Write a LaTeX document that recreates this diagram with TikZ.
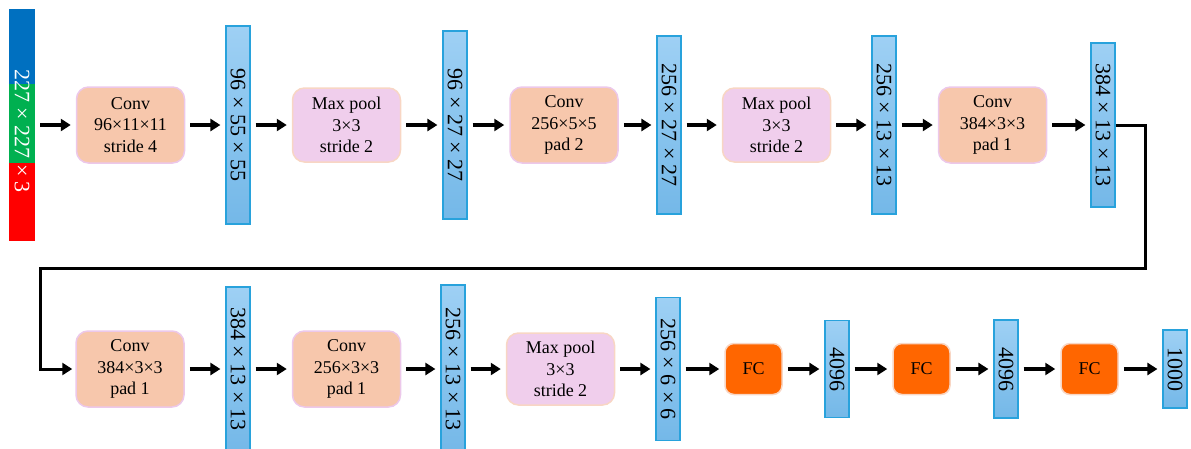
\documentclass[tikz,border=0pt]{standalone}
\usepackage{fontspec}
\setmainfont{Liberation Serif}
\usepackage{tikz}
\usetikzlibrary{arrows.meta}

\definecolor{inBlue}{RGB}{0,112,192}
\definecolor{inGreen}{RGB}{0,176,80}
\definecolor{inRed}{RGB}{255,0,0}
\definecolor{convFill}{RGB}{247,199,172}
\definecolor{convEdge}{RGB}{236,200,234}
\definecolor{poolFill}{RGB}{240,206,236}
\definecolor{poolEdge}{RGB}{248,214,196}
\definecolor{fcFill}{RGB}{255,102,0}
\definecolor{barTop}{RGB}{158,208,244}
\definecolor{barBot}{RGB}{116,184,232}
\definecolor{barEdge}{RGB}{40,162,220}

\begin{document}
\begin{tikzpicture}[
    x=1pt, y=-1pt,
    layer/.style={rounded corners=12pt, minimum width=108pt, minimum height=76pt,
                  align=center, inner sep=2pt, line width=1.5pt,
                  font=\fontsize{18}{21.5}\selectfont},
    conv/.style={layer, fill=convFill, draw=convEdge},
    pool/.style={layer, fill=poolFill, draw=poolEdge, minimum height=74pt},
    fc/.style={layer, fill=fcFill, draw=poolEdge, minimum width=57pt,
               minimum height=51pt, rounded corners=9pt},
    fmap/.style={top color=barTop, bottom color=barBot, draw=barEdge, line width=1.2pt,
                 minimum width=24pt, inner sep=0pt, font=\fontsize{22}{26}\selectfont},
    inbar/.style={minimum width=26pt, minimum height=232pt, inner sep=0pt,
                  text=white, font=\fontsize{22}{26}\selectfont,
                  path picture={
                    \fill[inBlue] (path picture bounding box.north west) rectangle ++(26,75);
                    \fill[inGreen] ([yshift=-75pt]path picture bounding box.north west) rectangle ++(26,79);
                    \fill[inRed] ([yshift=-154pt]path picture bounding box.north west) rectangle (path picture bounding box.south east);
                  }},
    arrow/.style={-{Triangle[length=10pt, width=12pt]}, line width=3.5pt,
                  shorten <=5pt, shorten >=5pt},
    wrap/.style={-{Triangle[length=10pt, width=12pt]}, line width=3pt,
                 rounded corners=0pt, shorten >=3pt}
]
\useasboundingbox (0,0) rectangle (1191,448);

% --- First row ---
\node[inbar] (input) at (22,125) {\rotatebox{-90}{\hspace{12pt}227 × 227 × 3}};

\node[conv] (conv1) at (130.5,125) {Conv\\96×11×11\\stride 4};
\node[fmap, minimum height=198pt] (fm1) at (238,125) {\rotatebox{-90}{96 × 55 × 55}};
\node[pool] (pool1) at (346.5,125) {Max pool\\3×3\\stride 2};
\node[fmap, minimum height=188pt] (fm2) at (455,125) {\rotatebox{-90}{96 × 27 × 27}};
\node[conv] (conv2) at (564,125) {Conv\\256×5×5\\pad 2};
\node[fmap, minimum height=178pt] (fm3) at (669,125) {\rotatebox{-90}{256 × 27 × 27}};
\node[pool] (pool2) at (776.5,125) {Max pool\\3×3\\stride 2};
\node[fmap, minimum height=178pt] (fm4) at (884,125) {\rotatebox{-90}{256 × 13 × 13}};
\node[conv] (conv3) at (992.5,125) {Conv\\384×3×3\\pad 1};
\node[fmap, minimum height=164pt] (fm5) at (1103,125) {\rotatebox{-90}{384 × 13 × 13}};

\draw[arrow] (input) -- (conv1);
\draw[arrow] (conv1) -- (fm1);
\draw[arrow] (fm1) -- (pool1);
\draw[arrow] (pool1) -- (fm2);
\draw[arrow] (fm2) -- (conv2);
\draw[arrow] (conv2) -- (fm3);
\draw[arrow] (fm3) -- (pool2);
\draw[arrow] (pool2) -- (fm4);
\draw[arrow] (fm4) -- (conv3);
\draw[arrow] (conv3) -- (fm5);

% --- Second row ---
\node[conv] (conv4) at (130,369) {Conv\\384×3×3\\pad 1};
\node[fmap, minimum height=164pt] (fm6) at (238,369) {\rotatebox{-90}{384 × 13 × 13}};
\node[conv] (conv5) at (346.5,369) {Conv\\256×3×3\\pad 1};
\node[fmap, minimum height=168pt] (fm7) at (453,369) {\rotatebox{-90}{256 × 13 × 13}};
\node[pool, minimum height=72pt] (pool3) at (560.5,369) {Max pool\\3×3\\stride 2};
\node[fmap, minimum height=143pt] (fm8) at (668,369) {\rotatebox{-90}{256 × 6 × 6}};
\node[fc] (fc1) at (753.5,369) {FC};
\node[fmap, minimum height=97pt] (fm9) at (837,369) {\rotatebox{-90}{4096}};
\node[fc] (fc2) at (921.5,369) {FC};
\node[fmap, minimum height=98pt] (fm10) at (1006,369) {\rotatebox{-90}{4096}};
\node[fc] (fc3) at (1089.5,369) {FC};
\node[fmap, minimum height=78pt] (fm11) at (1175,369) {\rotatebox{-90}{1000}};

\draw[arrow] (conv4) -- (fm6);
\draw[arrow] (fm6) -- (conv5);
\draw[arrow] (conv5) -- (fm7);
\draw[arrow] (fm7) -- (pool3);
\draw[arrow] (pool3) -- (fm8);
\draw[arrow] (fm8) -- (fc1);
\draw[arrow] (fc1) -- (fm9);
\draw[arrow] (fm9) -- (fc2);
\draw[arrow] (fc2) -- (fm10);
\draw[arrow] (fm10) -- (fc3);
\draw[arrow] (fc3) -- (fm11);

% --- Row wrap ---
\coordinate (bend) at (40,268);
\draw[wrap] (fm5.east) -- ++(30,0) |- (bend) |- (conv4.west);

\end{tikzpicture}
\end{document}
